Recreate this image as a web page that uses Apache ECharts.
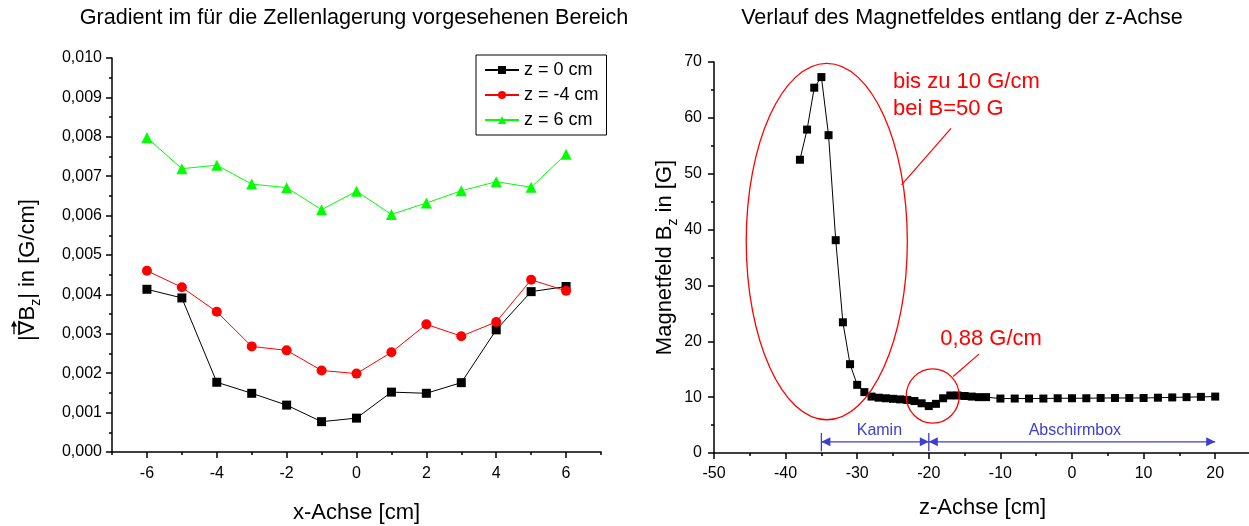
<!DOCTYPE html>
<html>
<head>
<meta charset="utf-8">
<script src="https://cdn.jsdelivr.net/npm/echarts@6/dist/echarts.min.js"></script>
<style>
html,body{margin:0;padding:0;background:#fff;}
#c{width:1249px;height:526px;}
</style>
</head>
<body>
<div id="c"></div>
<script>
// ---------- data: left chart (gradient) ----------
const xPos = [-6, -5, -4, -3, -2, -1, 0, 1, 2, 3, 4, 5, 6];
const gradZ0 = [0.00413, 0.00391, 0.00177, 0.00149, 0.00119, 0.00077, 0.00086, 0.00152, 0.00149, 0.00176, 0.00310, 0.00407, 0.00420];
const gradZm4 = [0.00460, 0.00418, 0.00356, 0.00268, 0.00258, 0.00207, 0.00199, 0.00253, 0.00324, 0.00294, 0.00330, 0.00437, 0.00409];
const gradZ6 = [0.00798, 0.00719, 0.00728, 0.00680, 0.00671, 0.00615, 0.00662, 0.00603, 0.00632, 0.00663, 0.00686, 0.00672, 0.00756];
const seriesNames = ['z = 0 cm', 'z = -4 cm', 'z = 6 cm'];
const leftXLabels = [-6, -4, -2, 0, 2, 4, 6];
const leftXMinor = [-7, -5, -3, -1, 1, 3, 5, 7];

// ---------- data: right chart (field along z) ----------
const zPos = [-38, -37, -36, -35, -34, -33, -32, -31, -30, -29, -28, -27, -26, -25, -24, -23, -22, -21, -20, -19, -18, -17, -16, -15, -14, -13, -12,
              -10, -8, -6, -4, -2, 0, 2, 4, 6, 8, 10, 12, 14, 16, 18, 20];
const bz = [52.5, 57.9, 65.4, 67.3, 56.9, 38.1, 23.4, 15.9, 12.2, 10.9, 10.1, 9.9, 9.8, 9.7, 9.6, 9.5, 9.3, 8.9, 8.4, 8.8, 9.8, 10.3, 10.3, 10.2, 10.1, 10.0, 10.0,
            9.75, 9.75, 9.75, 9.75, 9.8, 9.8, 9.8, 9.85, 9.85, 9.85, 9.85, 9.9, 9.95, 10.0, 10.05, 10.1];
const rightXLabels = [-50, -40, -30, -20, -10, 0, 10, 20];
const rightXMinor = [-45, -35, -25, -15, -5, 5, 15, 25];

// ---------- annotations (in data units of the right chart) ----------
const bigEllipse = { c: [-34.25, 37.85], r: [11.25, 31.9] };
const smallCircle = { c: [-19.45, 10.2], r: [3.7, 4.85] };
const bigLeader = [[-23.8, 48.0], [-16.9, 58.1]];
const smallLeader = [[-16.6, 13.7], [-13.0, 17.7]];
const bigText = { at: [-25.0, 66.4], lines: ['bis zu 10 G/cm', 'bei B=50 G'], step: -4.8 };
const smallText = { at: [-11.3, 20.4], text: '0,88 G/cm' };
const kamin = { from: -35, to: -20, y: 2.0, label: 'Kamin', labelAt: [-26.9, 4.1] };
const abschirm = { from: -20, to: 20, y: 2.0, label: 'Abschirmbox', labelAt: [0.4, 4.1] };
const barY = [0.3, 3.6];

const FONT = '"Liberation Sans", Arial, Helvetica, sans-serif';
const BLUE = '#3d3dcf';
const RED = '#ff0000';

const chart = echarts.init(document.getElementById('c'), null, { renderer: 'canvas' });

const axisLineStyle = { color: '#000', width: 1.5 };
const tickStyle = { color: '#000', width: 1.5 };
const labelStyle = { color: '#000', fontSize: 16, fontFamily: FONT };
const subRich = { fontSize: 14, fontFamily: FONT, color: '#000', verticalAlign: 'bottom', lineHeight: 12 };
const nameStyle = { color: '#000', fontSize: 22, fontFamily: FONT };
const nameStyleSub = { color: '#000', fontSize: 22, fontFamily: FONT, lineHeight: 30, rich: { sub: subRich } };
const titleStyle = { fontSize: 21.6, fontWeight: 'normal', color: '#000', fontFamily: FONT };

const option = {
  animation: false,
  backgroundColor: '#fff',
  title: [
    { text: 'Gradient im für die Zellenlagerung vorgesehenen Bereich', left: 349, top: 2, textAlign: 'center', textStyle: titleStyle },
    { text: 'Verlauf des Magnetfeldes entlang der z-Achse', left: 957, top: 2, textAlign: 'center', textStyle: titleStyle }
  ],
  legend: {
    data: seriesNames,
    orient: 'vertical',
    left: 476, top: 55,
    borderColor: '#000', borderWidth: 1,
    padding: [6, 8, 6, 8],
    itemGap: 7,
    itemWidth: 34, itemHeight: 10,
    textStyle: { fontSize: 18, color: '#000', fontFamily: FONT }
  },
  grid: [
    { left: 112, top: 58, width: 489, height: 394, outerBoundsMode: 'none', containLabel: false },
    { left: 714, top: 62, width: 537, height: 391, outerBoundsMode: 'none', containLabel: false }
  ],
  xAxis: [
    { gridIndex: 0, type: 'value', min: -7, max: 7, position: 'bottom',
      name: 'x-Achse [cm]', nameLocation: 'middle', nameGap: 50, nameTextStyle: nameStyle,
      axisLine: { onZero: false, lineStyle: axisLineStyle }, splitLine: { show: false },
      axisTick: { customValues: leftXLabels, length: 6, lineStyle: tickStyle },
      axisLabel: Object.assign({ customValues: leftXLabels, margin: 14 }, labelStyle) },
    { gridIndex: 0, type: 'value', min: -7, max: 7, position: 'bottom',
      axisLine: { show: false, onZero: false }, splitLine: { show: false }, axisLabel: { show: false },
      axisTick: { customValues: leftXMinor, length: 3, lineStyle: tickStyle } },
    { gridIndex: 1, type: 'value', min: -50, max: 25, position: 'bottom',
      name: 'z-Achse [cm]', nameLocation: 'middle', nameGap: 44, nameTextStyle: nameStyle,
      axisLine: { onZero: false, lineStyle: axisLineStyle }, splitLine: { show: false },
      axisTick: { customValues: rightXLabels, length: 6, lineStyle: tickStyle },
      axisLabel: Object.assign({ customValues: rightXLabels, margin: 13 }, labelStyle) },
    { gridIndex: 1, type: 'value', min: -50, max: 25, position: 'bottom',
      axisLine: { show: false, onZero: false }, splitLine: { show: false }, axisLabel: { show: false },
      axisTick: { customValues: rightXMinor, length: 3, lineStyle: tickStyle } }
  ],
  yAxis: [
    { gridIndex: 0, type: 'value', min: 0, max: 0.01, interval: 0.001, position: 'left',
      axisLine: { show: true, onZero: false, lineStyle: axisLineStyle }, splitLine: { show: false },
      axisTick: { show: true, length: 6, lineStyle: tickStyle },
      minorTick: { show: true, splitNumber: 2, length: 3, lineStyle: tickStyle },
      minorSplitLine: { show: false },
      axisLabel: Object.assign({ margin: 10, formatter: v => v.toFixed(3).replace('.', ',') }, labelStyle) },
    { gridIndex: 1, type: 'value', min: 0, max: 70, interval: 10, position: 'left',
      name: 'Magnetfeld B{sub|z} in [G]', nameLocation: 'middle', nameGap: 34, nameRotate: 90,
      nameTextStyle: nameStyleSub,
      axisLine: { show: true, onZero: false, lineStyle: axisLineStyle }, splitLine: { show: false },
      axisTick: { show: true, length: 6, lineStyle: tickStyle },
      minorTick: { show: true, splitNumber: 2, length: 3, lineStyle: tickStyle },
      minorSplitLine: { show: false },
      axisLabel: Object.assign({ margin: 12 }, labelStyle) }
  ],
  series: [
    { name: seriesNames[0], type: 'line', xAxisIndex: 0, yAxisIndex: 0,
      data: xPos.map((x, i) => [x, gradZ0[i]]),
      symbol: 'rect', symbolSize: 9, showSymbol: true,
      lineStyle: { color: '#000', width: 1 }, itemStyle: { color: '#000' } },
    { name: seriesNames[1], type: 'line', xAxisIndex: 0, yAxisIndex: 0,
      data: xPos.map((x, i) => [x, gradZm4[i]]),
      symbol: 'circle', symbolSize: 10, showSymbol: true,
      lineStyle: { color: RED, width: 1 }, itemStyle: { color: RED } },
    { name: seriesNames[2], type: 'line', xAxisIndex: 0, yAxisIndex: 0,
      data: xPos.map((x, i) => [x, gradZ6[i]]),
      symbol: 'triangle', symbolSize: 11, showSymbol: true,
      lineStyle: { color: '#00ff00', width: 1 }, itemStyle: { color: '#00ff00' } },
    { name: 'Bz', type: 'line', xAxisIndex: 2, yAxisIndex: 1,
      data: zPos.map((z, i) => [z, bz[i]]),
      symbol: 'rect', symbolSize: 8, showSymbol: true,
      lineStyle: { color: '#000', width: 1 }, itemStyle: { color: '#000' } }
  ]
};

chart.setOption(option);

// ---------- annotations placed through the right chart's scales ----------
const P = (d) => chart.convertToPixel({ seriesIndex: 3 }, d);
function ellipseEl(e) {
  const c = P(e.c);
  const px = P([e.c[0] + e.r[0], e.c[1] + e.r[1]]);
  return { type: 'ellipse', silent: true, z: 10,
    shape: { cx: c[0], cy: c[1], rx: Math.abs(px[0] - c[0]), ry: Math.abs(px[1] - c[1]) },
    style: { fill: 'none', stroke: RED, lineWidth: 1.3 } };
}
function lineEl(a, b, color, w) {
  const p1 = P(a), p2 = P(b);
  return { type: 'line', silent: true, z: 10,
    shape: { x1: p1[0], y1: p1[1], x2: p2[0], y2: p2[1] },
    style: { stroke: color, lineWidth: w || 1.2 } };
}
function textEl(at, text, color, size, align) {
  const p = P(at);
  return { type: 'text', silent: true, z: 10, x: p[0], y: p[1],
    style: { text: text, fill: color, font: size + 'px ' + FONT, textAlign: align || 'left', textVerticalAlign: 'middle' } };
}
function headEl(tipZ, y, dir) {
  const t = P([tipZ, y]);
  const L = 9, H = 4.5;
  const bx = t[0] - dir * L;
  return { type: 'polygon', silent: true, z: 10,
    shape: { points: [[t[0], t[1]], [bx, t[1] - H], [bx, t[1] + H]] },
    style: { fill: BLUE } };
}
function barEl(z) {
  return lineEl([z, barY[0]], [z, barY[1]], BLUE, 1.3);
}

const g = [];
g.push(ellipseEl(bigEllipse));
g.push(ellipseEl(smallCircle));
g.push(lineEl(bigLeader[0], bigLeader[1], RED, 1.2));
g.push(lineEl(smallLeader[0], smallLeader[1], RED, 1.2));
bigText.lines.forEach((t, i) => g.push(textEl([bigText.at[0], bigText.at[1] + i * bigText.step], t, RED, 22, 'left')));
g.push(textEl(smallText.at, smallText.text, RED, 22, 'center'));
[kamin, abschirm].forEach(a => {
  g.push(lineEl([a.from, a.y], [a.to, a.y], BLUE, 1.3));
  g.push(headEl(a.from, a.y, -1));
  g.push(headEl(a.to, a.y, 1));
  g.push(textEl(a.labelAt, a.label, BLUE, 16, 'center'));
});
g.push(barEl(kamin.from));
g.push(barEl(kamin.to));

// ---------- left y-axis title with vector arrow over nabla ----------
(function () {
  const cv = document.createElement('canvas').getContext('2d');
  const NABFONT = '22px "DejaVu Sans"';
  const m = (t, f) => { cv.font = f; return cv.measureText(t).width; };
  const f22 = '22px ' + FONT, f14 = '14px ' + FONT;
  const wBar = m('|', f22), wNab = m('∇', NABFONT);
  const W = wBar + wNab + m('B', f22) + m('z', f14) + m('| in [G/cm]', f22);
  const x0 = -W / 2 + wBar + 1, x1 = -W / 2 + wBar + wNab - 1;
  const ay = -14;
  g.push({
    type: 'group', x: 28, y: 270, rotation: Math.PI / 2, silent: true,
    children: [
      { type: 'text', x: 0, y: 0,
        style: { text: '|{nab|∇}B{sub|z}| in [G/cm]', fill: '#000', font: f22, lineHeight: 30,
          align: 'center', verticalAlign: 'middle',
          rich: { nab: { fontFamily: 'DejaVu Sans', fontSize: 22, fill: '#000', lineHeight: 30 },
                  sub: { fontFamily: FONT, fontSize: 14, fill: '#000', verticalAlign: 'bottom', lineHeight: 12 } } } },
      { type: 'line', shape: { x1: x0, y1: ay, x2: x1 - 3, y2: ay }, style: { stroke: '#000', lineWidth: 1.3 } },
      { type: 'polygon', shape: { points: [[x1 + 1, ay], [x1 - 5, ay - 3], [x1 - 5, ay + 3]] }, style: { fill: '#000' } }
    ]
  });
})();

chart.setOption({ graphic: g });
</script>
</body>
</html>
